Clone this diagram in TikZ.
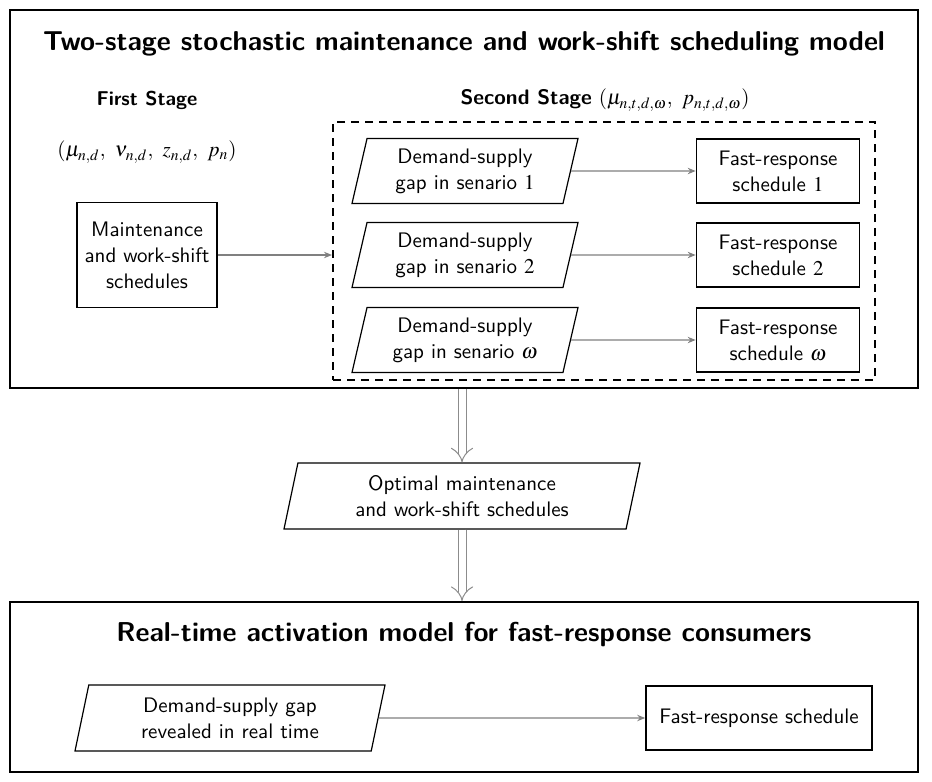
\documentclass[tikz,border=0pt]{standalone}
\usepackage{mathptmx}
\usepackage{fontspec}
\setsansfont{Latin Modern Sans}
\usetikzlibrary{shapes.geometric,arrows.meta}
\begin{document}
\begin{tikzpicture}[x=0.5pt,y=-0.5pt,
  every node/.style={font=\sffamily\fontsize{10.5}{13}\selectfont, align=center},
  box/.style={draw, line width=0.8pt, inner sep=2pt},
  para/.style={draw, line width=0.6pt, trapezium, trapezium left angle=72.9, trapezium right angle=107.1,
     trapezium stretches body, minimum width=113pt, minimum height=32.5pt, inner sep=1pt},
  rbox/.style={draw, line width=0.8pt, minimum width=81.5pt, minimum height=32pt, inner sep=1pt},
  conn/.style={draw=black!50, line width=0.6pt, -{Stealth[length=4pt,width=3.2pt]}},
  dconn/.style={draw=black!45, line width=0.5pt, double=white, double distance=3.5pt, -{Implies}},
  ttl/.style={font=\sffamily\bfseries\fontsize{13.65}{16}\selectfont}
]
\useasboundingbox (0,0) rectangle (932,782);
% outer frames
\node[box, line width=1pt, minimum width=454pt, minimum height=189pt] (top) at (464,199) {};
\node[box, line width=1pt, minimum width=454pt, minimum height=85pt] (bot) at (464,687) {};
% titles
\node[ttl] (t1) at (464,44) {Two-stage stochastic maintenance and work-shift scheduling model};
\node[ttl] (t2) at (464,635) {Real-time activation model for fast-response consumers};
% first stage
\node[font=\sffamily\bfseries] (fs) at (147,100) {First Stage};
\node (fm) at (147,152) {$(\mu_{n,d},\ \nu_{n,d},\ z_{n,d},\ p_n)$};
\node[box, minimum width=70pt, minimum height=52.5pt] (maint) at (147,255) {Maintenance\\and work-shift\\schedules};
% second stage
\node (ss) at (605,100) {\textbf{Second Stage} $(\mu_{n,t,d,\omega},\ p_{n,t,d,\omega})$};
\node[draw, line width=1pt, dash pattern=on 4pt off 3pt, minimum width=271pt, minimum height=129pt] (sec) at (604,251) {};
\node[para] (g1) at (465,171) {Demand-supply\\gap in senario $1$};
\node[para] (g2) at (465,255) {Demand-supply\\gap in senario $2$};
\node[para] (g3) at (465,340) {Demand-supply\\gap in senario $\omega$};
\node[rbox] (f1) at (778,171) {Fast-response\\schedule $1$};
\node[rbox] (f2) at (778,255) {Fast-response\\schedule $2$};
\node[rbox] (f3) at (778,340) {Fast-response\\schedule $\omega$};
\draw[conn] (maint.east) -- (maint.east -| sec.west);
\draw[conn] (g1.east) -- (f1.west);
\draw[conn] (g2.east) -- (f2.west);
\draw[conn] (g3.east) -- (f3.west);
% optimal
\node[para, minimum width=178pt, minimum height=33pt] (opt) at (462,496) {Optimal maintenance\\and work-shift schedules};
\draw[dconn] (top.south -| opt.north) -- (opt.north);
\draw[dconn] (opt.south) -- (opt.south |- bot.north);
% bottom
\node[para, minimum width=155pt, minimum height=33pt] (rg) at (230,718) {Demand-supply gap\\revealed in real time};
\node[rbox, minimum width=113pt] (rf) at (759,718) {Fast-response schedule};
\draw[conn] (rg.east) -- (rf.west);
\end{tikzpicture}
\end{document}
